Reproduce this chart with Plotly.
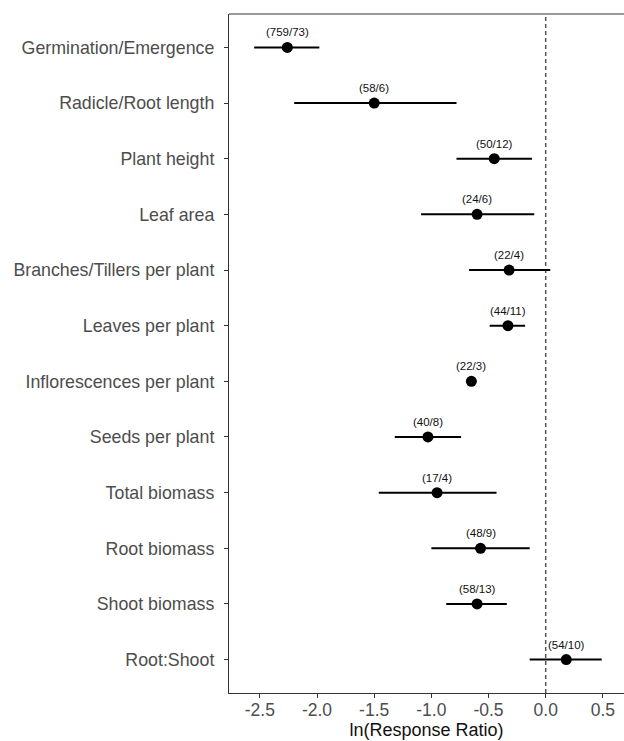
import plotly.graph_objects as go

categories = [
    "Germination/Emergence", "Radicle/Root length", "Plant height", "Leaf area",
    "Branches/Tillers per plant", "Leaves per plant", "Inflorescences per plant",
    "Seeds per plant", "Total biomass", "Root biomass", "Shoot biomass", "Root:Shoot",
]
estimate = [-2.26, -1.50, -0.45, -0.60, -0.32, -0.33, -0.65, -1.03, -0.95, -0.57, -0.60, 0.18]
ci_low = [-2.55, -2.20, -0.78, -1.09, -0.67, -0.49, -0.65, -1.32, -1.46, -1.00, -0.87, -0.14]
ci_high = [-1.98, -0.78, -0.12, -0.10, 0.04, -0.18, -0.65, -0.74, -0.43, -0.14, -0.34, 0.49]
n_labels = ["(759/73)", "(58/6)", "(50/12)", "(24/6)", "(22/4)", "(44/11)", "(22/3)",
            "(40/8)", "(17/4)", "(48/9)", "(58/13)", "(54/10)"]
x_ticks = [-2.5, -2.0, -1.5, -1.0, -0.5, 0.0, 0.5]

err_plus = [h - e for h, e in zip(ci_high, estimate)]
err_minus = [e - l for e, l in zip(estimate, ci_low)]

fig = go.Figure()
fig.add_trace(go.Scatter(
    x=estimate, y=categories, mode="markers",
    marker=dict(color="black", size=11),
    error_x=dict(type="data", symmetric=False, array=err_plus, arrayminus=err_minus,
                 color="black", thickness=2, width=0),
    showlegend=False, hoverinfo="skip",
))

for x, y, t in zip(estimate, categories, n_labels):
    fig.add_annotation(x=x, y=y, text=t, showarrow=False, yshift=15,
                       font=dict(family="Liberation Sans, Arial", size=11.5, color="#111111"))

fig.add_shape(type="line", xref="x", yref="paper", x0=0, x1=0, y0=0, y1=1,
              line=dict(color="#555555", width=1.5, dash="4px,3px"), layer="below")
fig.add_shape(type="line", xref="paper", yref="paper", x0=0, x1=1, y0=1, y1=1,
              line=dict(color="#333333", width=1.2))

fig.update_layout(
    width=624, height=741,
    margin=dict(l=229, r=0, t=14, b=48),
    paper_bgcolor="white", plot_bgcolor="white",
    font=dict(family="Liberation Sans, Arial", color="#4d4d4d"),
    xaxis=dict(
        range=[-2.77, 0.685], tickvals=x_ticks,
        ticktext=[f"{v:.1f}" for v in x_ticks],
        showgrid=False, zeroline=False, showline=True, linecolor="#333333", linewidth=1.2,
        ticks="outside", ticklen=4, tickcolor="#333333", ticklabelstandoff=-3,
        tickfont=dict(size=17.5, color="#4d4d4d"),
        title=dict(text="ln(Response Ratio)", font=dict(size=18, color="#111111"), standoff=4),
    ),
    yaxis=dict(
        type="category", categoryorder="array", categoryarray=categories,
        range=[11.6, -0.6],
        showgrid=False, zeroline=False, showline=True, linecolor="#333333", linewidth=1.2,
        ticks="outside", ticklen=4, tickcolor="#333333", ticklabelstandoff=6,
        tickfont=dict(size=17.8, color="#4d4d4d"),
    ),
)

fig.write_html("out.html", config={"displayModeBar": False},
               post_script="document.body.style.margin='0';document.body.style.overflow='hidden';")
